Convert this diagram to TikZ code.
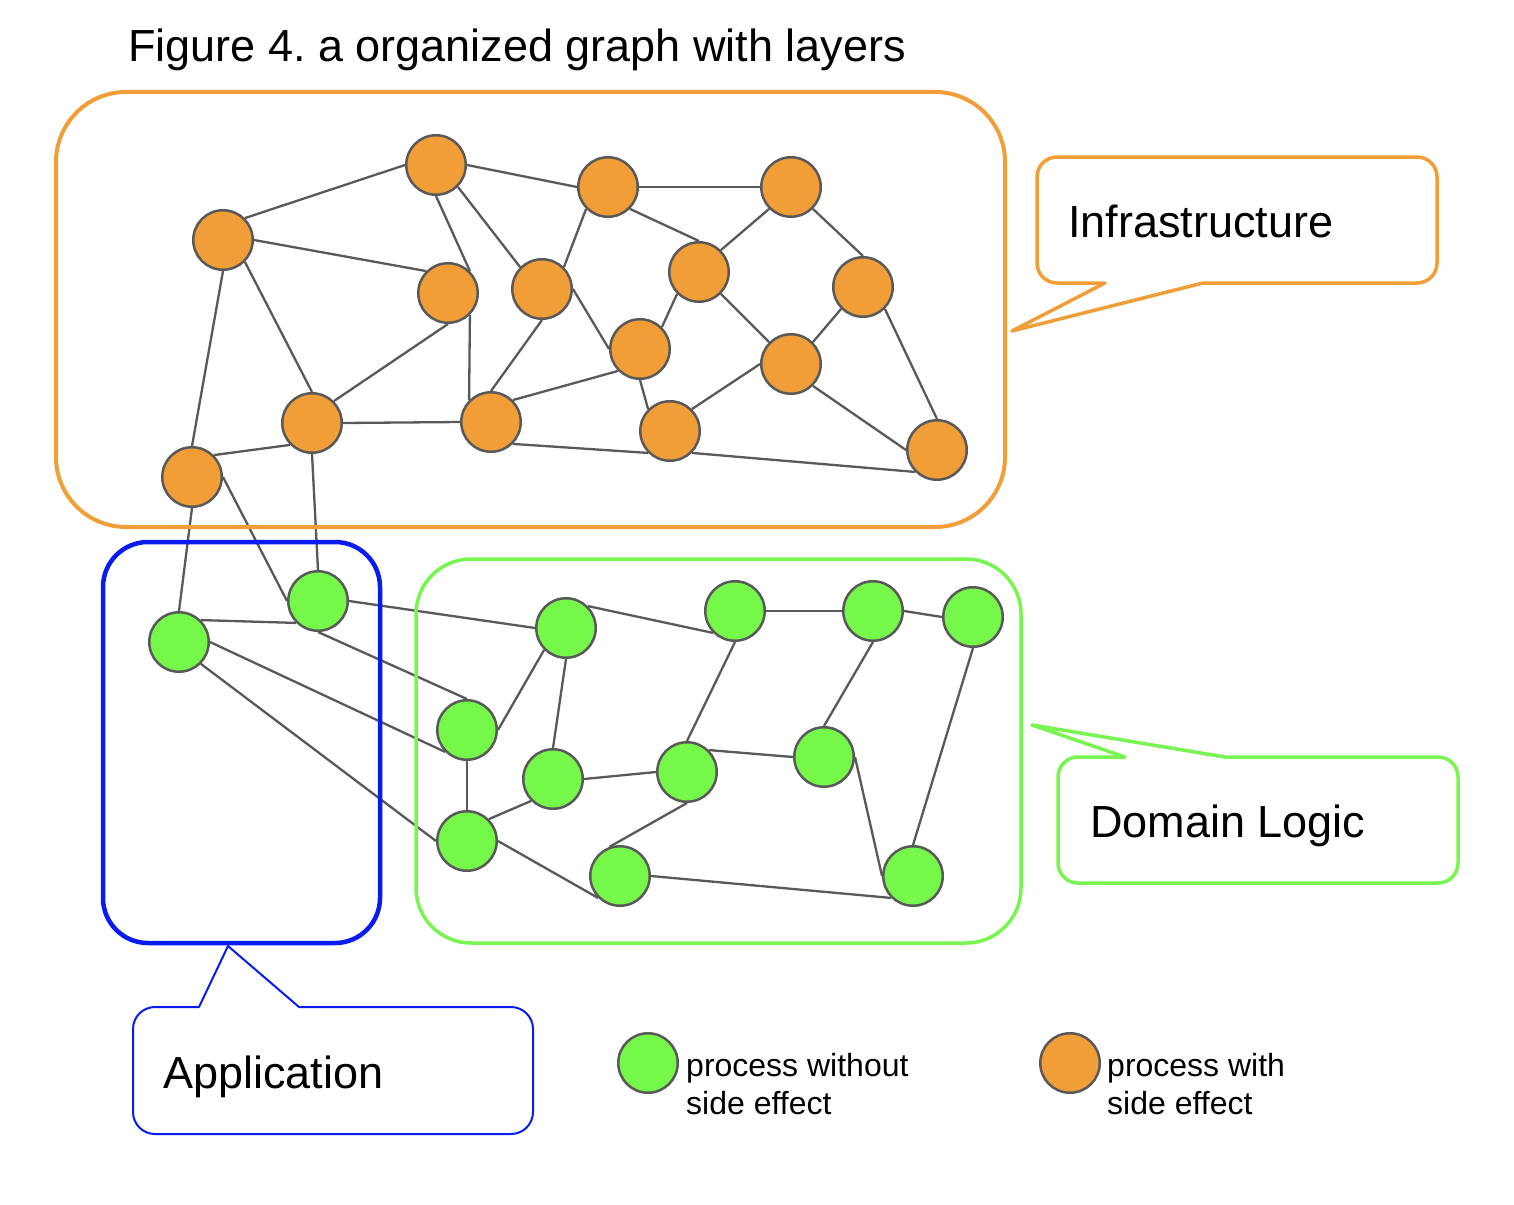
\documentclass[tikz,border=0pt]{standalone}
\usepackage{fontspec}
\setmainfont{Liberation Sans}
\frenchspacing
\definecolor{orfill}{RGB}{241,158,57}
\definecolor{grfill}{RGB}{117,248,74}
\definecolor{grline}{RGB}{120,245,80}
\definecolor{blline}{RGB}{8,28,240}
\definecolor{edgec}{RGB}{89,89,89}
\begin{document}
\begin{tikzpicture}[x=1pt,y=-1pt,
  proc/.style={circle, draw=edgec, line width=2.5pt, minimum size=59.5pt, inner sep=0pt},
  orn/.style={proc, fill=orfill},
  grn/.style={proc, fill=grfill},
  edge/.style={draw=edgec, line width=2.3pt},
  lbl/.style={anchor=base west, inner sep=0pt, font=\fontsize{45}{54}\selectfont},
  leg/.style={anchor=base west, inner sep=0pt, font=\fontsize{32}{38}\selectfont},
]
\fill[white] (0,0) rectangle (1514,1204);
\useasboundingbox (0,0) rectangle (1514,1204);

% title
\node[lbl] (title) at (128,62) {Figure 4.\ a organized graph with layers};

% orange nodes
\node[orn] (O1) at (436,165) {};
\node[orn] (O2) at (608,187) {};
\node[orn] (O3) at (791,187) {};
\node[orn] (O4) at (223,240) {};
\node[orn] (O5) at (448,293) {};
\node[orn] (O6) at (542,289) {};
\node[orn] (O7) at (699,272) {};
\node[orn] (O8) at (863,287) {};
\node[orn] (O9) at (640,349) {};
\node[orn] (O10) at (791,364) {};
\node[orn] (O11) at (312,423) {};
\node[orn] (O12) at (491,422) {};
\node[orn] (O13) at (670,431) {};
\node[orn] (O14) at (937,450) {};
\node[orn] (O15) at (192,477) {};

% green nodes
\node[grn] (G1) at (179,642) {};
\node[grn] (G2) at (318,601) {};
\node[grn] (G3) at (566,628) {};
\node[grn] (G4) at (735,611) {};
\node[grn] (G5) at (873,611) {};
\node[grn] (G6) at (973,617) {};
\node[grn] (G7) at (467,730) {};
\node[grn] (G8) at (553,779) {};
\node[grn] (G9) at (687,772) {};
\node[grn] (G10) at (824,757) {};
\node[grn] (G11) at (467,841) {};
\node[grn] (G12) at (620,876) {};
\node[grn] (G13) at (913,876) {};

% orange edges
\draw[edge] (O4.45) -- (O1.180);
\draw[edge] (O4.0) -- (O5.135);
\draw[edge] (O1.-90) -- (O5.45);
\draw[edge] (O1.-45) -- (O6.135);
\draw[edge] (O1.0) -- (O2.180);
\draw[edge] (O2.0) -- (O3.180);
\draw[edge] (O2.-135) -- (O6.45);
\draw[edge] (O2.-45) -- (O7.90);
\draw[edge] (O3.-135) -- (O7.45);
\draw[edge] (O3.-45) -- (O8.90);
\draw[edge] (O4.-90) -- (O15.90);
\draw[edge] (O4.-45) -- (O11.90);
\draw[edge] (O5.-90) -- (O11.45);
\draw[edge] (O5.-45) -- (O12.135);
\draw[edge] (O6.0) -- (O9.180);
\draw[edge] (O6.-90) -- (O12.90);
\draw[edge] (O7.-135) -- (O9.45);
\draw[edge] (O7.-45) -- (O10.135);
\draw[edge] (O8.-135) -- (O10.45);
\draw[edge] (O8.-45) -- (O14.90);
\draw[edge] (O9.-135) -- (O12.45);
\draw[edge] (O9.-90) -- (O13.135);
\draw[edge] (O10.180) -- (O13.45);
\draw[edge] (O10.-45) -- (O14.180);
\draw[edge] (O11.0) -- (O12.180);
\draw[edge] (O12.-45) -- (O13.-135);
\draw[edge] (O13.-45) -- (O14.-135);
\draw[edge] (O15.45) -- (O11.-135);
\draw[edge] (O15.-90) -- (G1.90);
\draw[edge] (O15.0) -- (G2.180);
\draw[edge] (O11.-90) -- (G2.90);

% green edges
\draw[edge] (G1.45) -- (G2.-135);
\draw[edge] (G1.0) -- (G7.-135);
\draw[edge] (G1.-45) -- (G11.180);
\draw[edge] (G2.0) -- (G3.180);
\draw[edge] (G2.-90) -- (G7.90);
\draw[edge] (G3.45) -- (G4.-135);
\draw[edge] (G3.-135) -- (G7.0);
\draw[edge] (G3.-90) -- (G8.90);
\draw[edge] (G4.0) -- (G5.180);
\draw[edge] (G5.0) -- (G6.180);
\draw[edge] (G4.-90) -- (G9.90);
\draw[edge] (G5.-90) -- (G10.90);
\draw[edge] (G6.-90) -- (G13.90);
\draw[edge] (G7.-90) -- (G11.90);
\draw[edge] (G8.-135) -- (G11.45);
\draw[edge] (G8.0) -- (G9.180);
\draw[edge] (G9.45) -- (G10.180);
\draw[edge] (G9.-90) -- (G12.110);
\draw[edge] (G10.0) -- (G13.180);
\draw[edge] (G11.0) -- (G12.-135);
\draw[edge] (G12.0) -- (G13.-135);

% group boxes
\draw[orfill, line width=4pt, rounded corners=70pt] (56,92) rectangle (1005,527);
\draw[blline, line width=4.5pt, rounded corners=45pt] (103,542) rectangle (380,943);
\draw[grline, line width=3.5pt, rounded corners=55pt] (416,559) rectangle (1021,943);

% callouts
\draw[orfill, line width=3.5pt, line join=round]
  (1105,283) -- (1012,331) -- (1203,283) -- (1417,283)
  arc[start angle=-90, end angle=0, radius=20pt] -- (1437,177)
  arc[start angle=0, end angle=90, radius=20pt] -- (1057,157)
  arc[start angle=90, end angle=180, radius=20pt] -- (1037,263)
  arc[start angle=180, end angle=270, radius=20pt] -- cycle;
\node[lbl] (infra) at (1068,237) {Infrastructure};

\draw[grline, line width=3.5pt, line join=round]
  (1125,757) -- (1032,725) -- (1225,757) -- (1438,757)
  arc[start angle=90, end angle=0, radius=20pt] -- (1458,863)
  arc[start angle=0, end angle=-90, radius=20pt] -- (1078,883)
  arc[start angle=-90, end angle=-180, radius=20pt] -- (1058,777)
  arc[start angle=180, end angle=90, radius=20pt] -- cycle;
\node[lbl] (domain) at (1090,837) {Domain Logic};

\draw[blline, line width=2pt, line join=round]
  (199,1007) -- (228,946) -- (299,1007) -- (511,1007)
  arc[start angle=90, end angle=0, radius=22pt] -- (533,1112)
  arc[start angle=0, end angle=-90, radius=22pt] -- (155,1134)
  arc[start angle=-90, end angle=-180, radius=22pt] -- (133,1029)
  arc[start angle=180, end angle=90, radius=22pt] -- cycle;
\node[lbl] (app) at (163,1088) {Application};

% legend
\node[grn] (L1) at (648,1063) {};
\node[leg] (L1a) at (686,1076) {process without};
\node[leg] (L1b) at (686,1114) {side effect};
\node[orn] (L2) at (1070,1063) {};
\node[leg] (L2a) at (1107,1076) {process with};
\node[leg] (L2b) at (1107,1114) {side effect};
\end{tikzpicture}
\end{document}
